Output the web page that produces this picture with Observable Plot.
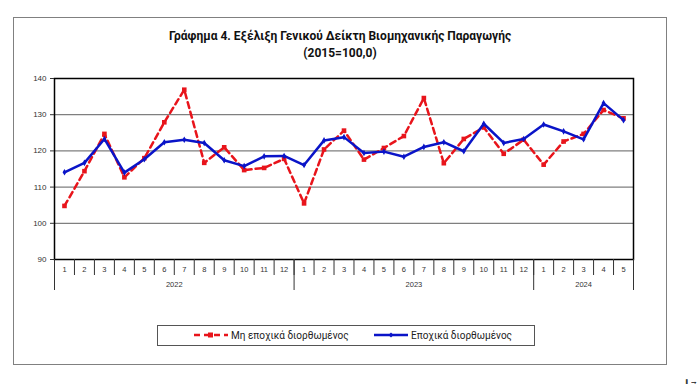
<!DOCTYPE html>
<html>
<head>
<meta charset="utf-8">
<script src="https://cdn.jsdelivr.net/npm/d3@7"></script>
<script src="https://cdn.jsdelivr.net/npm/@observablehq/plot@0.6"></script>
<style>
  html, body { margin: 0; padding: 0; background: #fff; overflow: hidden; width: 700px; height: 386px; }
  #wrap { position: relative; width: 700px; height: 386px; overflow: hidden; font-family: "Liberation Sans", Arial, sans-serif; }
  #border { position: absolute; left: 13px; top: 17px; width: 652px; height: 346px; border: 1.5px solid #808080; }
  #title { position: absolute; left: 13px; width: 654px; top: 28px; text-align: center; font-family: Roboto, "Liberation Sans", sans-serif; font-weight: bold; font-size: 12px; line-height: 17px; color: #111; }
  #chart { position: absolute; left: 0; top: 0; width: 700px; height: 386px; }
  #chart svg { display: block; }
  #legend { position: absolute; left: 157px; top: 325px; width: 376px; height: 19px; border: 1px solid #555; font-family: Roboto, "Liberation Sans", sans-serif; font-size: 10px; color: #222; }
  .item { display: flex; align-items: center; position: absolute; top: 3px; }
</style>
</head>
<body>
<div id="wrap">
  <div id="border"></div>
  <div id="title">Γράφημα 4. Εξέλιξη Γενικού Δείκτη Βιομηχανικής Παραγωγής<br>(2015=100,0)</div>
  <div id="chart"></div>
  <div id="legend">
    <div class="item" style="left:35px">
      <svg width="36" height="12"><line x1="1" y1="6" x2="35" y2="6" stroke="#e8141b" stroke-width="2.5" stroke-dasharray="6,4"/><rect x="15" y="3.5" width="5" height="5" fill="#e8141b"/></svg>
      <span style="margin-left:2px">Μη εποχικά διορθωμένος</span>
    </div>
    <div class="item" style="left:215px">
      <svg width="36" height="12"><line x1="1" y1="6" x2="35" y2="6" stroke="#0a14c8" stroke-width="2.5"/><path d="M18,3.5L20.5,6L18,8.5L15.5,6Z" fill="#0a14c8"/></svg>
      <span style="margin-left:2px">Εποχικά διορθωμένος</span>
    </div>
  </div>
</div>
<script>
const years = [2022, 2023, 2024];
const monthCounts = [12, 12, 5];
const nsa = [104.8, 114.4, 124.7, 112.7, 118.0, 127.9, 136.9, 116.7, 121.0, 114.7, 115.3, 117.8,
             105.5, 120.4, 125.6, 117.6, 120.8, 124.1, 134.6, 116.6, 123.3, 126.5, 119.2, 123.1,
             116.2, 122.6, 124.7, 131.3, 129.0];
const sa = [114.1, 116.7, 123.3, 114.0, 117.7, 122.4, 123.1, 122.2, 117.4, 115.8, 118.5, 118.6,
            116.1, 122.9, 123.8, 119.4, 119.8, 118.4, 121.1, 122.4, 119.9, 127.5, 122.2, 123.3,
            127.3, 125.4, 123.2, 133.2, 128.5];
const yTicks = [90, 100, 110, 120, 130, 140];
const gridTicks = [100, 110, 120, 130];

const rows = [];
years.forEach((yr, k) => {
  for (let m = 1; m <= monthCounts[k]; m++) {
    const i = rows.length;
    rows.push({i, year: yr, month: m, nsa: nsa[i], sa: sa[i]});
  }
});
const n = rows.length;
const monthBounds = d3.range(-1, n).map(i => i + 0.5);
const yearBounds = [-0.5];
const yearCenters = [];
{
  let start = 0;
  monthCounts.forEach(c => {
    yearCenters.push(start + (c - 1) / 2);
    start += c;
    yearBounds.push(start - 0.5);
  });
}

const RED = "#e8141b", BLUE = "#0a14c8";
const chart = Plot.plot({
  width: 700, height: 386,
  marginLeft: 54, marginRight: 67, marginTop: 78, marginBottom: 127,
  style: {background: "transparent", fontFamily: "'Liberation Sans', Arial, sans-serif", fontSize: "8px", color: "#333"},
  x: {type: "linear", domain: [-0.5, n - 0.5], axis: null},
  y: {domain: [90, 140], axis: null},
  marks: [
    Plot.gridY(gridTicks, {stroke: "#7f7f7f", strokeOpacity: 1, strokeWidth: 1.3}),
    Plot.frame({stroke: "#000", strokeWidth: 1.5}),
    Plot.axisY({ticks: yTicks, tickSize: 4, tickPadding: 4, stroke: "#333", fill: "#333"}),
    Plot.axisX({ticks: monthBounds, tickSize: 16, tickFormat: () => "", stroke: "#333"}),
    Plot.axisX({ticks: yearBounds, tickSize: 31, tickFormat: () => "", stroke: "#333"}),
    Plot.axisX({ticks: rows.map(d => d.i), tickSize: 0, tickPadding: 7, tickFormat: i => String(rows[Math.round(i)].month), fill: "#333", fontSize: 7.5}),
    Plot.axisX({ticks: yearCenters, tickSize: 0, tickPadding: 22, tickFormat: v => String(years[yearCenters.indexOf(v)]), fill: "#333", fontSize: 7.5}),
    Plot.line(rows, {x: "i", y: "nsa", stroke: RED, strokeWidth: 2.5, strokeDasharray: "6,4"}),
    Plot.dot(rows, {x: "i", y: "nsa", symbol: "square", r: 2.6, fill: RED}),
    Plot.line(rows, {x: "i", y: "sa", stroke: BLUE, strokeWidth: 2.5}),
    Plot.dot(rows, {x: "i", y: "sa", symbol: "diamond", r: 2, fill: BLUE})
  ]
});
document.getElementById("chart").appendChild(chart);
</script>
</body>
</html>
